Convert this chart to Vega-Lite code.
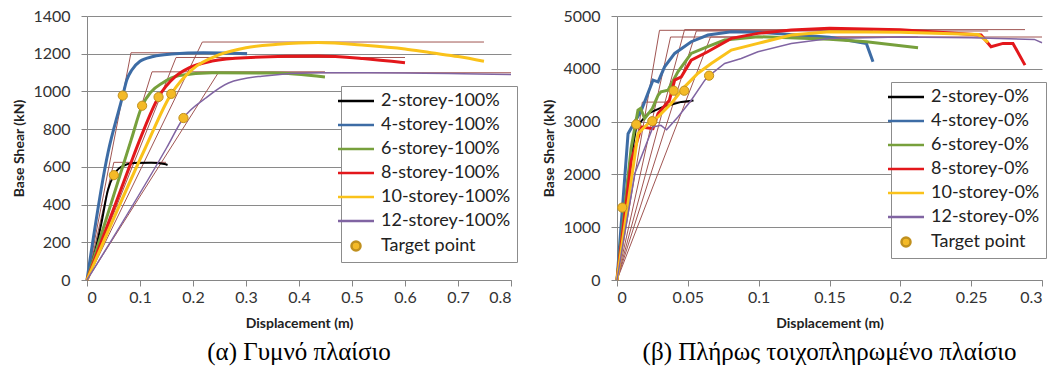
{
  "$schema": "https://vega.github.io/schema/vega-lite/v6.json",
  "padding": {"left": 12, "top": 8, "right": 4, "bottom": 2},
  "config": {
    "view": {"stroke": null},
    "font": "Lato",
    "axis": {"labelFont": "Lato", "labelFontSize": 16, "labelColor": "#333333", "titleFont": "Lato", "titleFontSize": 14, "titleFontWeight": "bold", "titleColor": "#222222", "domainColor": "#868686", "tickColor": "#868686", "gridColor": "#8a8a8a", "tickSize": 6},
    "axisX": {"grid": false, "labelPadding": 3, "titlePadding": 11},
    "axisY": {"grid": true, "labelPadding": 11, "titlePadding": 6},
    "legend": {"labelFont": "Lato", "labelFontSize": 18, "labelColor": "#222222", "strokeColor": "#8c8c8c", "fillColor": "white", "padding": 6, "symbolSize": 81, "symbolStrokeWidth": 2.5, "symbolFillColor": "#f4ba27", "labelOffset": 16, "rowPadding": 6},
    "title": {"font": "Liberation Serif", "fontSize": 25, "fontWeight": "normal", "color": "#000000"}
  },
  "resolve": {"scale": {"color": "independent", "shape": "independent"}, "legend": {"color": "independent", "shape": "independent"}},
  "datasets": {
    "leftCurves": [
      {"series": "2-storey-100%", "x": 0, "y": 0},
      {"series": "2-storey-100%", "x": 0.015, "y": 150},
      {"series": "2-storey-100%", "x": 0.027, "y": 299},
      {"series": "2-storey-100%", "x": 0.0394, "y": 476},
      {"series": "2-storey-100%", "x": 0.0507, "y": 556},
      {"series": "2-storey-100%", "x": 0.0645, "y": 600},
      {"series": "2-storey-100%", "x": 0.0895, "y": 620},
      {"series": "2-storey-100%", "x": 0.121, "y": 622},
      {"series": "2-storey-100%", "x": 0.146, "y": 615},
      {"series": "2-storey-100%", "x": 0.152, "y": 610},
      {"series": "4-storey-100%", "x": 0, "y": 0},
      {"series": "4-storey-100%", "x": 0.04, "y": 680},
      {"series": "4-storey-100%", "x": 0.06, "y": 900},
      {"series": "4-storey-100%", "x": 0.0675, "y": 978},
      {"series": "4-storey-100%", "x": 0.075, "y": 1060},
      {"series": "4-storey-100%", "x": 0.085, "y": 1115},
      {"series": "4-storey-100%", "x": 0.1, "y": 1160},
      {"series": "4-storey-100%", "x": 0.125, "y": 1185},
      {"series": "4-storey-100%", "x": 0.16, "y": 1198},
      {"series": "4-storey-100%", "x": 0.22, "y": 1205},
      {"series": "4-storey-100%", "x": 0.302, "y": 1200},
      {"series": "6-storey-100%", "x": 0, "y": 0},
      {"series": "6-storey-100%", "x": 0.0833, "y": 743},
      {"series": "6-storey-100%", "x": 0.104, "y": 924},
      {"series": "6-storey-100%", "x": 0.12, "y": 995},
      {"series": "6-storey-100%", "x": 0.1425, "y": 1045},
      {"series": "6-storey-100%", "x": 0.174, "y": 1084},
      {"series": "6-storey-100%", "x": 0.236, "y": 1099},
      {"series": "6-storey-100%", "x": 0.35, "y": 1098},
      {"series": "6-storey-100%", "x": 0.449, "y": 1077},
      {"series": "8-storey-100%", "x": 0, "y": 0},
      {"series": "8-storey-100%", "x": 0.08, "y": 600},
      {"series": "8-storey-100%", "x": 0.102, "y": 760},
      {"series": "8-storey-100%", "x": 0.135, "y": 970},
      {"series": "8-storey-100%", "x": 0.1675, "y": 1081},
      {"series": "8-storey-100%", "x": 0.1925, "y": 1125},
      {"series": "8-storey-100%", "x": 0.236, "y": 1161},
      {"series": "8-storey-100%", "x": 0.299, "y": 1179},
      {"series": "8-storey-100%", "x": 0.436, "y": 1188},
      {"series": "8-storey-100%", "x": 0.52, "y": 1175},
      {"series": "8-storey-100%", "x": 0.6, "y": 1152},
      {"series": "10-storey-100%", "x": 0, "y": 0},
      {"series": "10-storey-100%", "x": 0.11, "y": 700},
      {"series": "10-storey-100%", "x": 0.159, "y": 987},
      {"series": "10-storey-100%", "x": 0.2, "y": 1120},
      {"series": "10-storey-100%", "x": 0.25, "y": 1195},
      {"series": "10-storey-100%", "x": 0.3, "y": 1232},
      {"series": "10-storey-100%", "x": 0.36, "y": 1250},
      {"series": "10-storey-100%", "x": 0.436, "y": 1259},
      {"series": "10-storey-100%", "x": 0.524, "y": 1245},
      {"series": "10-storey-100%", "x": 0.6, "y": 1225},
      {"series": "10-storey-100%", "x": 0.649, "y": 1205},
      {"series": "10-storey-100%", "x": 0.7, "y": 1185},
      {"series": "10-storey-100%", "x": 0.749, "y": 1160},
      {"series": "12-storey-100%", "x": 0, "y": 0},
      {"series": "12-storey-100%", "x": 0.15, "y": 700},
      {"series": "12-storey-100%", "x": 0.182, "y": 859},
      {"series": "12-storey-100%", "x": 0.224, "y": 965},
      {"series": "12-storey-100%", "x": 0.267, "y": 1045},
      {"series": "12-storey-100%", "x": 0.33, "y": 1081},
      {"series": "12-storey-100%", "x": 0.436, "y": 1099},
      {"series": "12-storey-100%", "x": 0.6, "y": 1098},
      {"series": "12-storey-100%", "x": 0.8, "y": 1090}
    ],
    "leftBi": [
      {"series": "2", "x": 0, "y": 0}, {"series": "2", "x": 0.0507, "y": 624}, {"series": "2", "x": 0.149, "y": 624},
      {"series": "4", "x": 0, "y": 0}, {"series": "4", "x": 0.083, "y": 1205}, {"series": "4", "x": 0.302, "y": 1205},
      {"series": "6", "x": 0, "y": 0}, {"series": "6", "x": 0.1227, "y": 1104}, {"series": "6", "x": 0.449, "y": 1104},
      {"series": "8", "x": 0, "y": 0}, {"series": "8", "x": 0.168, "y": 1180}, {"series": "8", "x": 0.6, "y": 1180},
      {"series": "10", "x": 0, "y": 0}, {"series": "10", "x": 0.2176, "y": 1262}, {"series": "10", "x": 0.749, "y": 1262},
      {"series": "12", "x": 0, "y": 0}, {"series": "12", "x": 0.2477, "y": 1099}, {"series": "12", "x": 0.8, "y": 1099}
    ],
    "leftTarget": [
      {"series": "Target point", "x": 0.0507, "y": 556}, {"series": "Target point", "x": 0.0675, "y": 978}, {"series": "Target point", "x": 0.104, "y": 924},
      {"series": "Target point", "x": 0.135, "y": 970}, {"series": "Target point", "x": 0.159, "y": 987}, {"series": "Target point", "x": 0.182, "y": 859}
    ],
    "rightCurves": [
      {"series": "2-storey-0%", "x": 0, "y": 0},
      {"series": "2-storey-0%", "x": 0.008, "y": 2000},
      {"series": "2-storey-0%", "x": 0.0136, "y": 2900},
      {"series": "2-storey-0%", "x": 0.0219, "y": 3152},
      {"series": "2-storey-0%", "x": 0.0324, "y": 3278},
      {"series": "2-storey-0%", "x": 0.0454, "y": 3373},
      {"series": "2-storey-0%", "x": 0.054, "y": 3400},
      {"series": "4-storey-0%", "x": 0, "y": 0},
      {"series": "4-storey-0%", "x": 0.0078, "y": 2772},
      {"series": "4-storey-0%", "x": 0.0172, "y": 3215},
      {"series": "4-storey-0%", "x": 0.0254, "y": 3785},
      {"series": "4-storey-0%", "x": 0.029, "y": 3753},
      {"series": "4-storey-0%", "x": 0.0336, "y": 4038},
      {"series": "4-storey-0%", "x": 0.0407, "y": 4291},
      {"series": "4-storey-0%", "x": 0.0524, "y": 4513},
      {"series": "4-storey-0%", "x": 0.0642, "y": 4639},
      {"series": "4-storey-0%", "x": 0.0807, "y": 4703},
      {"series": "4-storey-0%", "x": 0.1, "y": 4690},
      {"series": "4-storey-0%", "x": 0.15, "y": 4600},
      {"series": "4-storey-0%", "x": 0.176, "y": 4481},
      {"series": "4-storey-0%", "x": 0.1807, "y": 4133},
      {"series": "6-storey-0%", "x": 0, "y": 0},
      {"series": "6-storey-0%", "x": 0.01, "y": 2500},
      {"series": "6-storey-0%", "x": 0.0148, "y": 3215},
      {"series": "6-storey-0%", "x": 0.0167, "y": 3250},
      {"series": "6-storey-0%", "x": 0.0195, "y": 3057},
      {"series": "6-storey-0%", "x": 0.025, "y": 3250},
      {"series": "6-storey-0%", "x": 0.029, "y": 3500},
      {"series": "6-storey-0%", "x": 0.031, "y": 3563},
      {"series": "6-storey-0%", "x": 0.036, "y": 3595},
      {"series": "6-storey-0%", "x": 0.043, "y": 3943},
      {"series": "6-storey-0%", "x": 0.0524, "y": 4291},
      {"series": "6-storey-0%", "x": 0.064, "y": 4418},
      {"series": "6-storey-0%", "x": 0.076, "y": 4544},
      {"series": "6-storey-0%", "x": 0.0995, "y": 4608},
      {"series": "6-storey-0%", "x": 0.15, "y": 4560},
      {"series": "6-storey-0%", "x": 0.176, "y": 4513},
      {"series": "6-storey-0%", "x": 0.2125, "y": 4399},
      {"series": "8-storey-0%", "x": 0, "y": 0},
      {"series": "8-storey-0%", "x": 0.0101, "y": 2266},
      {"series": "8-storey-0%", "x": 0.0172, "y": 2899},
      {"series": "8-storey-0%", "x": 0.0254, "y": 2867},
      {"series": "8-storey-0%", "x": 0.029, "y": 3152},
      {"series": "8-storey-0%", "x": 0.037, "y": 3405},
      {"series": "8-storey-0%", "x": 0.0407, "y": 3785},
      {"series": "8-storey-0%", "x": 0.0454, "y": 3848},
      {"series": "8-storey-0%", "x": 0.0524, "y": 4164},
      {"series": "8-storey-0%", "x": 0.064, "y": 4323},
      {"series": "8-storey-0%", "x": 0.0807, "y": 4576},
      {"series": "8-storey-0%", "x": 0.0995, "y": 4671},
      {"series": "8-storey-0%", "x": 0.123, "y": 4734},
      {"series": "8-storey-0%", "x": 0.15, "y": 4766},
      {"series": "8-storey-0%", "x": 0.2, "y": 4740},
      {"series": "8-storey-0%", "x": 0.257, "y": 4639},
      {"series": "8-storey-0%", "x": 0.264, "y": 4418},
      {"series": "8-storey-0%", "x": 0.2725, "y": 4481},
      {"series": "8-storey-0%", "x": 0.2795, "y": 4481},
      {"series": "8-storey-0%", "x": 0.288, "y": 4070},
      {"series": "10-storey-0%", "x": 0, "y": 0},
      {"series": "10-storey-0%", "x": 0.0148, "y": 2772},
      {"series": "10-storey-0%", "x": 0.0219, "y": 2962},
      {"series": "10-storey-0%", "x": 0.029, "y": 3089},
      {"series": "10-storey-0%", "x": 0.0383, "y": 3342},
      {"series": "10-storey-0%", "x": 0.0477, "y": 3658},
      {"series": "10-storey-0%", "x": 0.057, "y": 3911},
      {"series": "10-storey-0%", "x": 0.0665, "y": 4101},
      {"series": "10-storey-0%", "x": 0.0807, "y": 4354},
      {"series": "10-storey-0%", "x": 0.0995, "y": 4481},
      {"series": "10-storey-0%", "x": 0.123, "y": 4639},
      {"series": "10-storey-0%", "x": 0.15, "y": 4703},
      {"series": "10-storey-0%", "x": 0.2, "y": 4690},
      {"series": "10-storey-0%", "x": 0.255, "y": 4650},
      {"series": "10-storey-0%", "x": 0.262, "y": 4500},
      {"series": "12-storey-0%", "x": 0, "y": 0},
      {"series": "12-storey-0%", "x": 0.0125, "y": 2013},
      {"series": "12-storey-0%", "x": 0.0254, "y": 2899},
      {"series": "12-storey-0%", "x": 0.031, "y": 2930},
      {"series": "12-storey-0%", "x": 0.035, "y": 2845},
      {"series": "12-storey-0%", "x": 0.043, "y": 3089},
      {"series": "12-storey-0%", "x": 0.0524, "y": 3405},
      {"series": "12-storey-0%", "x": 0.062, "y": 3785},
      {"series": "12-storey-0%", "x": 0.0647, "y": 3861},
      {"series": "12-storey-0%", "x": 0.076, "y": 4101},
      {"series": "12-storey-0%", "x": 0.0877, "y": 4196},
      {"series": "12-storey-0%", "x": 0.0995, "y": 4323},
      {"series": "12-storey-0%", "x": 0.123, "y": 4481},
      {"series": "12-storey-0%", "x": 0.15, "y": 4576},
      {"series": "12-storey-0%", "x": 0.2, "y": 4600},
      {"series": "12-storey-0%", "x": 0.25, "y": 4590},
      {"series": "12-storey-0%", "x": 0.2946, "y": 4557},
      {"series": "12-storey-0%", "x": 0.3, "y": 4494}
    ],
    "rightBi": [
      {"series": "2", "x": 0, "y": 0}, {"series": "2", "x": 0.0179, "y": 3369}, {"series": "2", "x": 0.0524, "y": 3369},
      {"series": "4", "x": 0, "y": 0}, {"series": "4", "x": 0.03, "y": 4729}, {"series": "4", "x": 0.1807, "y": 4729},
      {"series": "6", "x": 0, "y": 0}, {"series": "6", "x": 0.0378, "y": 4602}, {"series": "6", "x": 0.2125, "y": 4602},
      {"series": "8", "x": 0, "y": 0}, {"series": "8", "x": 0.0477, "y": 4742}, {"series": "8", "x": 0.288, "y": 4742},
      {"series": "10", "x": 0, "y": 0}, {"series": "10", "x": 0.056, "y": 4716}, {"series": "10", "x": 0.262, "y": 4716},
      {"series": "12", "x": 0, "y": 0}, {"series": "12", "x": 0.066, "y": 4602}, {"series": "12", "x": 0.3, "y": 4602}
    ],
    "rightTarget": [
      {"series": "Target point", "x": 0.0037, "y": 1371}, {"series": "Target point", "x": 0.0136, "y": 2946}, {"series": "Target point", "x": 0.0249, "y": 3008},
      {"series": "Target point", "x": 0.04, "y": 3585}, {"series": "Target point", "x": 0.0475, "y": 3585}, {"series": "Target point", "x": 0.065, "y": 3870}
    ]
  },
  "spacing": 24,
  "hconcat": [
    {
      "width": 424,
      "height": 264,
      "title": {"text": "(α) Γυμνό πλαίσιο", "orient": "bottom", "anchor": "middle", "offset": 10},
      "encoding": {
        "x": {"field": "x", "type": "quantitative", "scale": {"domain": [0, 0.8], "nice": false}, "axis": {"values": [0, 0.1, 0.2, 0.3, 0.4, 0.5, 0.6, 0.7, 0.8], "format": "~g", "title": "Displacement (m)"}},
        "y": {"field": "y", "type": "quantitative", "scale": {"domain": [0, 1400], "nice": false}, "axis": {"values": [0, 200, 400, 600, 800, 1000, 1200, 1400], "format": "d", "title": "Base Shear (kN)"}}
      },
      "layer": [
        {
          "data": {"name": "leftBi"},
          "mark": {"type": "line", "color": "#a05552", "strokeWidth": 1},
          "encoding": {"detail": {"field": "series", "type": "nominal"}}
        },
        {
          "data": {"name": "leftCurves"},
          "transform": [{"filter": "datum.series === '2-storey-100%'"}],
          "mark": {"type": "line", "interpolate": "monotone", "strokeWidth": 2},
          "encoding": {
            "color": {"field": "series", "type": "nominal",
              "scale": {"domain": ["2-storey-100%", "4-storey-100%", "6-storey-100%", "8-storey-100%", "10-storey-100%", "12-storey-100%", "Target point"], "range": ["#000000", "#3d6ca5", "#77a03c", "#e3171b", "#fac21a", "#8064a2", "#c0901e"]},
              "legend": {"title": null, "orient": "none", "legendX": 254, "legendY": 70, "strokeColor": "#8c8c8c", "fillColor": "white", "padding": 6}}
          }
        },
        {
          "data": {"name": "leftCurves"},
          "transform": [{"filter": "datum.series !== '2-storey-100%' && datum.series !== '12-storey-100%'"}],
          "mark": {"type": "line", "interpolate": "monotone", "strokeWidth": 3},
          "encoding": {"color": {"field": "series", "type": "nominal"}}
        },
        {
          "data": {"name": "leftCurves"},
          "transform": [{"filter": "datum.series === '12-storey-100%'"}],
          "mark": {"type": "line", "interpolate": "monotone", "strokeWidth": 1.5},
          "encoding": {"color": {"field": "series", "type": "nominal"}}
        },
        {
          "data": {"name": "leftTarget"},
          "mark": {"type": "point", "filled": true, "size": 85, "fill": "#f4ba27", "stroke": "#c0901e", "strokeWidth": 1, "opacity": 1},
          "encoding": {
            "shape": {"field": "series", "type": "nominal",
              "scale": {"domain": ["2-storey-100%", "4-storey-100%", "6-storey-100%", "8-storey-100%", "10-storey-100%", "12-storey-100%", "Target point"], "range": ["M-4,0H4", "M-4,0H4", "M-4,0H4", "M-4,0H4", "M-4,0H4", "M-4,0H4", "circle"]},
              "legend": {"title": null, "orient": "none", "legendX": 254, "legendY": 70, "strokeColor": "#8c8c8c", "fillColor": "white", "padding": 6}}
          }
        }
      ]
    },
    {
      "width": 425,
      "height": 264,
      "title": {"text": "(β) Πλήρως τοιχοπληρωμένο πλαίσιο", "orient": "bottom", "anchor": "middle", "offset": 10},
      "encoding": {
        "x": {"field": "x", "type": "quantitative", "scale": {"domain": [0, 0.3], "nice": false}, "axis": {"values": [0, 0.05, 0.1, 0.15, 0.2, 0.25, 0.3], "format": "~g", "title": "Displacement (m)"}},
        "y": {"field": "y", "type": "quantitative", "scale": {"domain": [0, 5000], "nice": false}, "axis": {"values": [0, 1000, 2000, 3000, 4000, 5000], "format": "d", "title": "Base Shear (kN)"}}
      },
      "layer": [
        {
          "data": {"name": "rightBi"},
          "mark": {"type": "line", "color": "#a05552", "strokeWidth": 1},
          "encoding": {"detail": {"field": "series", "type": "nominal"}}
        },
        {
          "data": {"name": "rightCurves"},
          "transform": [{"filter": "datum.series === '2-storey-0%'"}],
          "mark": {"type": "line", "strokeWidth": 2},
          "encoding": {
            "color": {"field": "series", "type": "nominal",
              "scale": {"domain": ["2-storey-0%", "4-storey-0%", "6-storey-0%", "8-storey-0%", "10-storey-0%", "12-storey-0%", "Target point"], "range": ["#000000", "#3d6ca5", "#77a03c", "#e3171b", "#fac21a", "#8064a2", "#c0901e"]},
              "legend": {"title": null, "orient": "none", "legendX": 274, "legendY": 66, "strokeColor": "#8c8c8c", "fillColor": "white", "padding": 6}}
          }
        },
        {
          "data": {"name": "rightCurves"},
          "transform": [{"filter": "datum.series !== '2-storey-0%' && datum.series !== '12-storey-0%'"}],
          "mark": {"type": "line", "strokeWidth": 3},
          "encoding": {"color": {"field": "series", "type": "nominal"}}
        },
        {
          "data": {"name": "rightCurves"},
          "transform": [{"filter": "datum.series === '12-storey-0%'"}],
          "mark": {"type": "line", "strokeWidth": 1.5},
          "encoding": {"color": {"field": "series", "type": "nominal"}}
        },
        {
          "data": {"name": "rightTarget"},
          "mark": {"type": "point", "filled": true, "size": 85, "fill": "#f4ba27", "stroke": "#c0901e", "strokeWidth": 1, "opacity": 1},
          "encoding": {
            "shape": {"field": "series", "type": "nominal",
              "scale": {"domain": ["2-storey-0%", "4-storey-0%", "6-storey-0%", "8-storey-0%", "10-storey-0%", "12-storey-0%", "Target point"], "range": ["M-4,0H4", "M-4,0H4", "M-4,0H4", "M-4,0H4", "M-4,0H4", "M-4,0H4", "circle"]},
              "legend": {"title": null, "orient": "none", "legendX": 274, "legendY": 66, "strokeColor": "#8c8c8c", "fillColor": "white", "padding": 6}}
          }
        }
      ]
    }
  ]
}
